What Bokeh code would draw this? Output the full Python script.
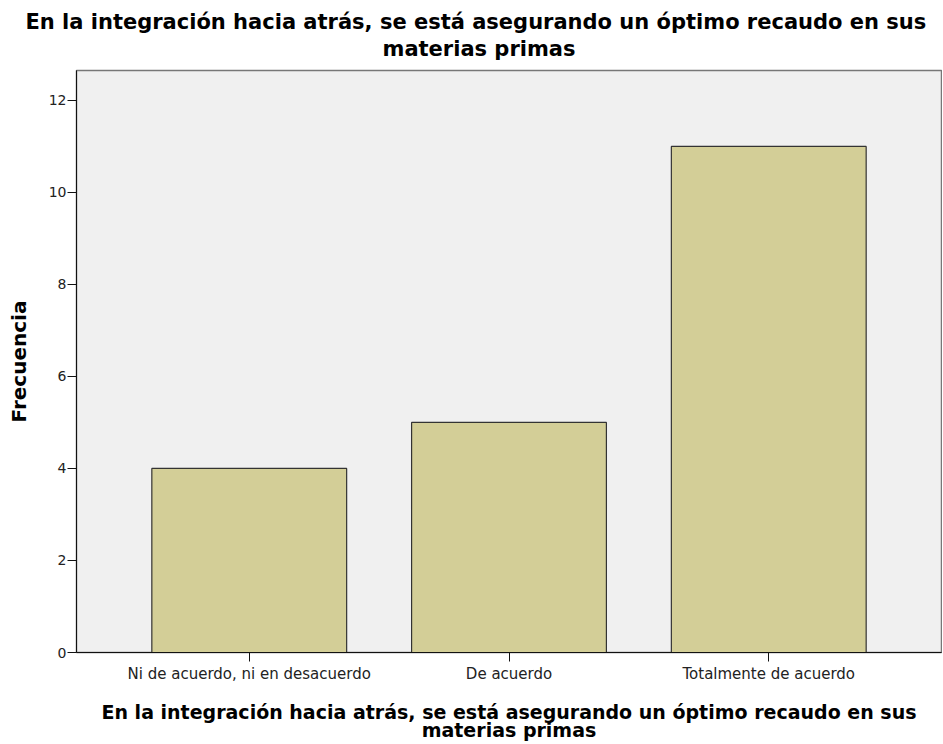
from bokeh.plotting import figure
from bokeh.models import FactorRange, Range1d, FixedTicker, Title
from bokeh.embed import file_html
from bokeh.resources import INLINE

categories = ["Ni de acuerdo, ni en desacuerdo", "De acuerdo", "Totalmente de acuerdo"]
counts = [4, 5, 11]
y_ticks = [0, 2, 4, 6, 8, 10, 12]
title_line1 = "En la integración hacia atrás, se está asegurando un óptimo recaudo en sus"
title_line2 = "materias primas"
y_label = "Frecuencia"

p = figure(
    x_range=FactorRange(factors=categories, range_padding=0.11),
    y_range=Range1d(0, 12.65),
    width=942, height=744,
    output_backend="svg", toolbar_location=None,
    min_border_left=76, min_border_right=1, min_border_top=70, min_border_bottom=92,
)

p.vbar(x=categories, top=counts, width=0.75, fill_color="#d3ce97",
       line_color="#333333", line_width=1.2)

for txt, so, off in ((title_line2, 19, 306), (title_line1, -17, -51)):
    p.add_layout(Title(text=txt, align="left", text_font="DejaVu Sans",
                       text_font_size="21px", text_font_style="bold",
                       text_color="#000000", standoff=so, offset=off), "above")

p.background_fill_color = "#f0f0f0"
p.border_fill_color = "#ffffff"
p.outline_line_color = "#777777"
p.outline_line_width = 1.5
p.xgrid.visible = False
p.ygrid.visible = False

p.yaxis.ticker = FixedTicker(ticks=y_ticks)
p.yaxis.axis_label = y_label
p.yaxis.axis_label_text_font = "DejaVu Sans"
p.yaxis.axis_label_text_font_size = "20px"
p.yaxis.axis_label_text_font_style = "bold"
p.yaxis.axis_label_text_color = "#000000"
p.yaxis.minor_tick_line_color = None
p.yaxis.major_tick_in = 0
p.yaxis.major_tick_out = 9
p.yaxis.major_label_text_font = "DejaVu Sans"
p.yaxis.major_label_text_font_size = "14px"
p.yaxis.major_label_text_color = "#222222"
p.yaxis.major_label_standoff = 1
p.yaxis.axis_label_standoff = 15

p.xaxis.axis_label = title_line1 + "\n" + title_line2
p.xaxis.axis_label_text_font = "DejaVu Sans"
p.xaxis.axis_label_text_font_size = "19px"
p.xaxis.axis_label_text_font_style = "bold"
p.xaxis.axis_label_text_color = "#000000"
p.xaxis.axis_label_text_align = "center"
p.xaxis.axis_label_text_line_height = 0.85
p.xaxis.major_tick_in = 0
p.xaxis.major_tick_out = 9
p.xaxis.major_label_text_font = "DejaVu Sans"
p.xaxis.major_label_text_font_size = "15px"
p.xaxis.major_label_text_color = "#222222"
p.xaxis.major_label_standoff = 3
p.xaxis.axis_label_standoff = 15

for ax in (p.xaxis, p.yaxis):
    ax.axis_line_color = "#111111"
    ax.major_tick_line_color = "#111111"

open("out.html", "w").write(file_html(p, INLINE))
